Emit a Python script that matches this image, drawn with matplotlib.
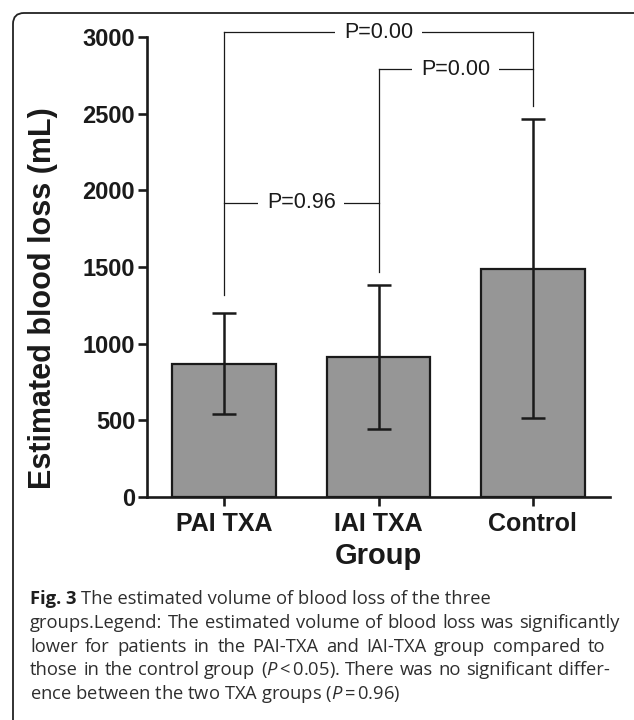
import matplotlib
matplotlib.use('Agg')
import matplotlib.pyplot as plt
from matplotlib.patches import FancyBboxPatch
from matplotlib.transforms import IdentityTransform

# ---------------- data ----------------
groups = ['PAI TXA', 'IAI TXA', 'Control']
means = [870, 915, 1490]
sds = [330, 470, 975]
yticks = [0, 500, 1000, 1500, 2000, 2500, 3000]
# comparisons: (group a, group b, bracket level, label)
comp_a = [0, 1, 0]
comp_b = [2, 2, 1]
comp_level = [3030, 2790, 1920]
comp_label = ['P=0.00', 'P=0.00', 'P=0.96']
# lower end of bracket legs above each group's error bar
leg_bottom = [1315, 1470, 2550]

caption_head = 'Fig. 3'
caption_lines = [
    'The estimated volume of blood loss of the three',
    'groups.Legend: The estimated volume of blood loss was significantly',
    'lower for patients in the PAI-TXA and IAI-TXA group compared to',
    r'those in the control group ($\mathit{P}$$\,$<$\,$0.05). There was no significant differ-',
    r'ence between the two TXA groups ($\mathit{P}$$\,$=$\,$0.96)',
]
# right edge (px) for justified lines, None = natural width
line_right = [None, 620, 605, 610, None]

# ---------------- style ----------------
CAP_FONT = 'Open Sans'
plt.rcParams['font.family'] = ['Liberation Sans', 'DejaVu Sans']
plt.rcParams['mathtext.fontset'] = 'custom'
plt.rcParams['mathtext.rm'] = CAP_FONT
plt.rcParams['mathtext.it'] = CAP_FONT + ':italic'
plt.rcParams['mathtext.bf'] = CAP_FONT + ':bold'

W, H = 634, 720
fig = plt.figure(figsize=(W / 100, H / 100), dpi=100)

ax_l, ax_r, ax_b, ax_t = 147, 610, 497, 37
ax = fig.add_axes([ax_l / W, 1 - ax_b / H, (ax_r - ax_l) / W, (ax_b - ax_t) / H])

x = list(range(len(groups)))
ax.bar(x, means, width=0.67, color='#969696', edgecolor='#1a1a1a', linewidth=1.6, zorder=2)
ax.errorbar(x, means, yerr=sds, fmt='none', ecolor='#1a1a1a', elinewidth=1.8,
            capsize=8.5, capthick=1.8, zorder=3)

ax.set_xlim(-0.5, 2.5)
ax.set_ylim(0, 3000)
ax.set_yticks(yticks)
ax.set_yticklabels([str(v) for v in yticks], fontsize=17, fontweight='bold', color='#1a1a1a')
ax.set_xticks(x)
ax.set_xticklabels(groups, fontsize=18, fontweight='bold', color='#1a1a1a')
for s in ['top', 'right']:
    ax.spines[s].set_visible(False)
for s in ['left', 'bottom']:
    ax.spines[s].set_linewidth(1.9)
    ax.spines[s].set_color('#1a1a1a')
ax.tick_params(axis='both', direction='out', length=6.5, width=1.9, color='#1a1a1a')
ax.tick_params(axis='y', pad=2)
ax.tick_params(axis='x', pad=4)

# significance brackets
lw_b = 0.9
for a, b, lev, lab in zip(comp_a, comp_b, comp_level, comp_label):
    ax.plot([a, b], [lev, lev], color='#1a1a1a', lw=lw_b, clip_on=False, zorder=4)
    ax.text((a + b) / 2, lev, lab, ha='center', va='center', fontsize=15.5, color='#1a1a1a',
            bbox=dict(facecolor='white', edgecolor='none', boxstyle='square,pad=0.4'),
            zorder=5, clip_on=False)
for g in x:
    tops = [lev for a, b, lev in zip(comp_a, comp_b, comp_level) if g in (a, b)]
    ax.plot([g, g], [leg_bottom[g], max(tops)], color='#1a1a1a', lw=lw_b,
            clip_on=False, zorder=4)

# axis labels
fig.text(43 / W, 1 - 298 / H, 'Estimated blood loss (mL)', rotation=90, ha='center',
         va='center', fontsize=22, fontweight='bold', color='#1a1a1a')
fig.text(378 / W, 1 - 556 / H, 'Group', ha='center', va='center', fontsize=21,
         fontweight='bold', color='#1a1a1a')

# ---------------- caption ----------------
baselines = [604, 628, 652, 675, 699]
x0 = 30
cap_color = '#2e2e2e'
r = fig.canvas.get_renderer()


def width_of(s, fs, weight='normal'):
    t = fig.text(0, 0, s, fontsize=fs, family=CAP_FONT, fontweight=weight)
    w = t.get_window_extent(r).width
    t.remove()
    return w


fs0 = 14.0
w_first = width_of(caption_head, fs0, 'bold') + width_of(' ' + caption_lines[0], fs0)
fs_a = fs0 * (505 - x0) / w_first
fs_b = fs0 * (line_right[1] - x0 - 2) / width_of(caption_lines[1], fs0)
fs = min(fs_a, fs_b)
space_w = width_of('a a', fs) - width_of('aa', fs)

for i, (ln, bl) in enumerate(zip(caption_lines, baselines)):
    yy = 1 - bl / H
    xs = x0
    if i == 0:
        fig.text(xs / W, yy, caption_head, fontsize=fs, family=CAP_FONT, fontweight='bold',
                 color='#1e1e1e', va='baseline', ha='left')
        xs += width_of(caption_head, fs, 'bold') + space_w
    if line_right[i] is not None:
        words = ln.split(' ')
        ws = [width_of(wd, fs) for wd in words]
        gap = max(space_w * 0.9, (line_right[i] - xs - sum(ws)) / (len(words) - 1))
        for wd, w in zip(words, ws):
            fig.text(xs / W, yy, wd, fontsize=fs, family=CAP_FONT, color=cap_color,
                     va='baseline', ha='left')
            xs += w + gap
    else:
        fig.text(xs / W, yy, ln, fontsize=fs, family=CAP_FONT, color=cap_color,
                 va='baseline', ha='left')

# rounded frame
frame = FancyBboxPatch((13, -30), 660, H - 13 + 30, boxstyle='round,pad=0,rounding_size=11',
                       transform=IdentityTransform(), facecolor='none', edgecolor='#222222',
                       linewidth=1.3)
fig.patches.append(frame)

fig.savefig('out.png', dpi=100)
